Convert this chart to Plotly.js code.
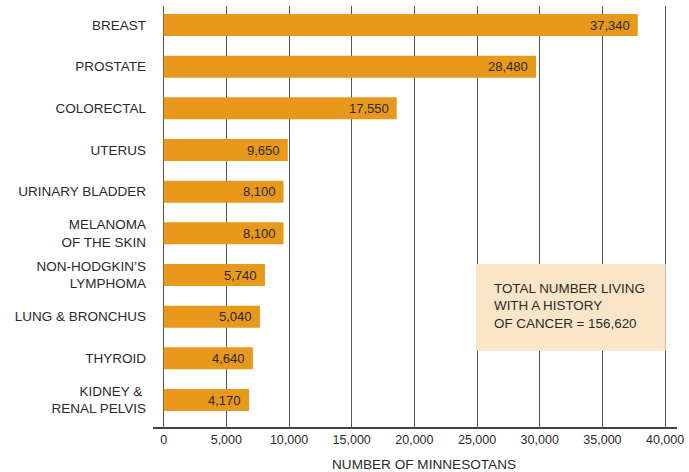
<!DOCTYPE html>
<html>
<head>
<meta charset="utf-8">
<script src="https://cdn.plot.ly/plotly-3.0.1.min.js"></script>
<style>html,body{margin:0;padding:0;background:#fff;}#chart{width:689px;height:472px;}</style>
</head>
<body>
<div id="chart"></div>
<script>
// Cancer sites (top to bottom)
const categories = [
  "BREAST", "PROSTATE", "COLORECTAL", "UTERUS", "URINARY BLADDER",
  "MELANOMA<br>OF THE SKIN", "NON-HODGKIN’S<br>LYMPHOMA", "LUNG &amp; BRONCHUS",
  "THYROID", "KIDNEY &amp;\u00A0<br>RENAL PELVIS"
];
// Bar lengths as drawn in the picture
const barLengths = [37820, 29710, 18590, 9900, 9560, 9560, 8080, 7680, 7120, 6810];
// Values printed on the bars
const printedValues = ["37,340", "28,480", "17,550", "9,650", "8,100", "8,100", "5,740", "5,040", "4,640", "4,170"];
// X axis ticks
const tickValues = [0, 5000, 10000, 15000, 20000, 25000, 30000, 35000, 40000];
const tickLabels = ["0", "5,000", "10,000", "15,000", "20,000", "25,000", "30,000", "35,000", "40,000"];
const axisTitle = "NUMBER OF MINNESOTANS";
const noteText = "TOTAL NUMBER LIVING<br>WITH A HISTORY<br>OF CANCER = 156,620";

const FONT = "'Liberation Sans', Arial, sans-serif";
const TXT = "#2a2a2a";

const trace = {
  type: "bar",
  orientation: "h",
  x: barLengths,
  y: categories,
  marker: {color: "#E8981B", line: {width: 0}},
  hoverinfo: "skip"
};

const annotations = barLengths.map((v, i) => ({
  x: v, y: categories[i], xref: "x", yref: "y",
  text: printedValues[i], showarrow: false,
  xanchor: "right", yanchor: "middle", xshift: -6,
  font: {family: FONT, size: 13, color: TXT}
}));
annotations.push({
  x: 26170, y: 0.287, xref: "x", yref: "paper",
  text: noteText, showarrow: false, align: "left",
  xanchor: "left", yanchor: "middle",
  font: {family: FONT, size: 13.4, color: TXT}
});
annotations.push({
  x: 20745, y: -0.088, xref: "x", yref: "paper",
  text: axisTitle, showarrow: false,
  xanchor: "center", yanchor: "middle",
  font: {family: FONT, size: 13.6, color: TXT}
});

const layout = {
  width: 689, height: 472,
  margin: {l: 153, r: 12, t: 6, b: 45, pad: 0},
  paper_bgcolor: "#ffffff", plot_bgcolor: "#ffffff",
  showlegend: false,
  bargap: 0.472,
  font: {family: FONT, size: 13, color: TXT},
  xaxis: {
    range: [-850, 40950],
    tickmode: "array", tickvals: tickValues, ticktext: tickLabels,
    showgrid: true, gridcolor: "#555555", gridwidth: 1,
    zeroline: false,
    showline: true, linecolor: "#444444", linewidth: 1.5,
    ticks: "", tickfont: {family: FONT, size: 12.5, color: TXT},
    fixedrange: true
  },
  yaxis: {
    type: "category",
    range: [9.648, -0.456],
    showgrid: false, zeroline: false, showline: false,
    ticks: "", ticklabelstandoff: 6,
    tickfont: {family: FONT, size: 13.5, color: TXT},
    fixedrange: true
  },
  shapes: [{
    type: "rect", xref: "x", yref: "paper",
    x0: 24920, x1: 40050, y0: 0.181, y1: 0.387,
    fillcolor: "#FAE5C8", line: {width: 0}, layer: "above"
  }],
  annotations: annotations
};

Plotly.newPlot("chart", [trace], layout, {displayModeBar: false, staticPlot: true});
</script>
</body>
</html>
